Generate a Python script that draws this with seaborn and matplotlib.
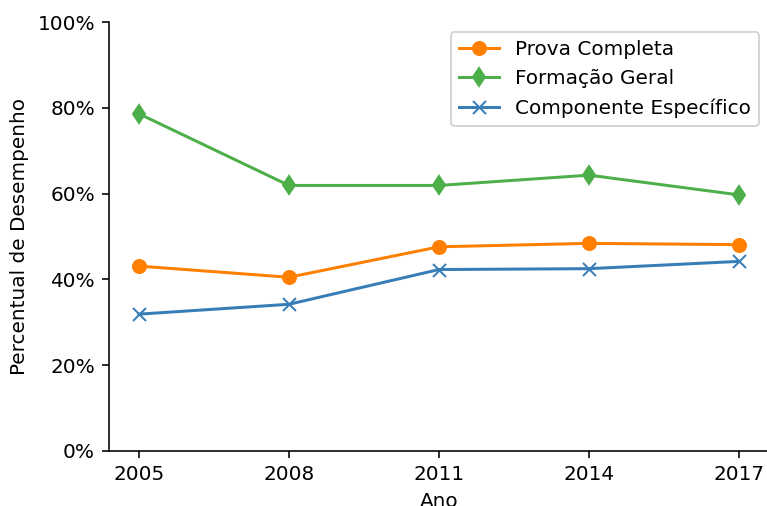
import pandas as pd
import matplotlib
matplotlib.use("Agg")
import matplotlib.pyplot as plt
import seaborn as sns
from matplotlib.ticker import PercentFormatter

anos = [2005, 2008, 2011, 2014, 2017]
prova_completa = [43.1, 40.5, 47.6, 48.4, 48.1]
formacao_geral = [78.6, 61.9, 61.9, 64.3, 59.7]
componente_especifico = [31.9, 34.2, 42.3, 42.5, 44.2]

series = [
    ('Prova Completa', prova_completa, '#ff7f00', 'o'),
    ('Formação Geral', formacao_geral, '#4daf4a', 'd'),
    ('Componente Específico', componente_especifico, '#377eb8', 'x'),
]

plt.style.use('default')
plt.rcParams['font.family'] = ['DejaVu Sans']

dpi = 144
fig = plt.figure(figsize=(767 / dpi, 506 / dpi), dpi=dpi)
ax = fig.add_axes([109 / 767, 55 / 506, 660 / 767, 429 / 506])

for nome, vals, cor, marc in series:
    df = pd.DataFrame({'Ano': anos, 'valor': vals})
    sns.lineplot(
        data=df, x='Ano', y='valor', color=cor, marker=marc,
        linewidth=1.5, markersize=6.5, markeredgewidth=1.0,
        markeredgecolor=cor, label=nome, ax=ax
    )

ax.set_ylim(0, 100)
ax.set_yticks([0, 20, 40, 60, 80, 100])
ax.yaxis.set_major_formatter(PercentFormatter(100, decimals=0))
ax.set_xticks(anos)
ax.tick_params(labelsize=10, colors='black')
ax.set_xlabel('Ano', fontsize=10)
ax.set_ylabel('Percentual de Desempenho', fontsize=10)
sns.despine(ax=ax)

ax.legend(loc='upper right', fontsize=10)

fig.savefig('out.png', dpi=dpi)
plt.close(fig)
